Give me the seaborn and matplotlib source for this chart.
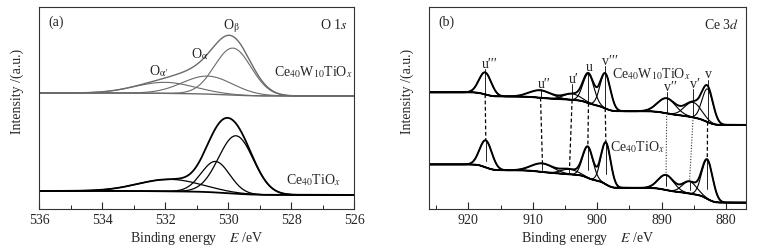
import matplotlib.pyplot as plt
import numpy as np
import seaborn as sns
from matplotlib.ticker import MultipleLocator

# ---------------------------------------------------------------------------
# Peak fits: centre (eV), height, width (sigma, eV).
# Heights and backgrounds are in arbitrary intensity units (offset curves).
# ---------------------------------------------------------------------------
# (a) O 1s
o_labels = ["O$_{\\mathrm{\\beta}}$", "O$_{\\mathrm{\\alpha}}$",
            "O$_{\\mathrm{\\alpha}\\prime}$"]
o_w_centre = [529.85, 530.65, 532.0]
o_w_height = [47, 18, 11]
o_w_sigma = [0.58, 0.80, 0.95]
o_w_bg = [113, 116]          # background at low / high binding energy
o_centre = [529.75, 530.40, 531.85]
o_height = [58, 31, 12]
o_sigma = [0.55, 0.45, 1.00]
o_bg = [14, 18]

# (b) Ce 3d
ce_labels = ["u\u2032\u2032\u2032", "u\u2032\u2032", "u\u2032", "u",
             "v\u2032\u2032\u2032", "v\u2032\u2032", "v\u2032", "v"]
ce_w_centre = [917.4, 908.8, 903.9, 901.35, 898.75, 889.2, 885.1, 882.85]
ce_w_height = [22, 7.5, 6, 29, 35, 15, 15, 33]
ce_w_sigma = [0.95, 1.7, 1.3, 0.85, 0.80, 1.4, 1.3, 0.85]
ce_w_bg = [84, 116.7]
ce_centre = [917.3, 908.5, 904.3, 901.45, 898.65, 889.3, 885.65, 882.9]
ce_height = [27, 8.5, 5, 31, 42, 15, 12, 39]
ce_sigma = [0.95, 1.7, 1.3, 0.80, 0.75, 1.2, 1.1, 0.85]
ce_bg = [6.3, 44.5]

sample_w = "Ce$_{40}$W$_{10}$TiO$_{x}$"
sample = "Ce$_{40}$TiO$_{x}$"


def fitted_spectrum(E, centre, height, sigma, bg):
    """Gaussian components on a Shirley-type background."""
    peaks = [h * np.exp(-((E - c) ** 2) / (2 * s ** 2))
             for c, h, s in zip(centre, height, sigma)]
    total = np.sum(peaks, axis=0)
    cum = np.concatenate([[0], np.cumsum((total[1:] + total[:-1]) / 2 * np.diff(E))])
    back = bg[0] + (bg[1] - bg[0]) * cum / cum[-1]
    return back, [back + p for p in peaks], back + total


sns.set_theme(style="ticks")
plt.rcParams["font.family"] = ["Liberation Serif", "DejaVu Serif"]
plt.rcParams["mathtext.fontset"] = "stix"
plt.rcParams["font.size"] = 10

fig = plt.figure(figsize=(7.65, 2.52), dpi=100)
ax1 = fig.add_axes([0.051, 0.171, 0.412, 0.801])
ax2 = fig.add_axes([0.561, 0.171, 0.414, 0.801])


def draw(ax, E, back, comps, env, color, lw_env=1.3, lw_comp=0.8):
    sns.lineplot(x=E, y=back, ax=ax, color=color, lw=lw_env)
    for c in comps:
        sns.lineplot(x=E, y=c, ax=ax, color=color, lw=lw_comp)
    sns.lineplot(x=E, y=env, ax=ax, color=color, lw=lw_env)


# ---------------- (a) O 1s ----------------
E1 = np.linspace(526, 536, 800)
bw, cw, ew = fitted_spectrum(E1, o_w_centre, o_w_height, o_w_sigma, o_w_bg)
b0, c0, e0 = fitted_spectrum(E1, o_centre, o_height, o_sigma, o_bg)
draw(ax1, E1, bw, cw, ew, "#6a6a6a", 1.0, 0.8)
draw(ax1, E1, b0, c0, e0, "black", 1.3, 0.9)

# labels of the O components, above the envelope
o_label_dx = [0.05, 0.25, 0.2]
o_label_dy = [10, 8, 9]
for lab, c, dx, dy in zip(o_labels, o_w_centre, o_label_dx, o_label_dy):
    ax1.text(c + dx, np.interp(c + dx, E1, ew) + dy, lab, ha="center", va="center",
             fontsize=10)

ax1.text(527.3, 137, sample_w, ha="center", va="center", fontsize=10)
ax1.text(527.3, 29, sample, ha="center", va="center", fontsize=10)
ax1.text(0.029, 0.926, "(a)", transform=ax1.transAxes, ha="left", va="center")
ax1.text(0.98, 0.911, "O 1$s$", transform=ax1.transAxes, ha="right", va="center")

ax1.set_xlim(536, 526)
ax1.xaxis.set_major_locator(MultipleLocator(2))
ax1.xaxis.set_minor_locator(MultipleLocator(1))

# ---------------- (b) Ce 3d ----------------
E2 = np.linspace(874, 928, 1500)
bw2, cw2, ew2 = fitted_spectrum(E2, ce_w_centre, ce_w_height, ce_w_sigma, ce_w_bg)
b02, c02, e02 = fitted_spectrum(E2, ce_centre, ce_height, ce_sigma, ce_bg)
draw(ax2, E2, bw2, cw2, ew2, "black", 1.4, 0.8)
draw(ax2, E2, b02, c02, e02, "black", 1.4, 0.8)

ce_label_dy = [8, 6, 14, 6, 12, 11, 17, 11]
ce_dotted = [False, False, False, False, False, True, True, False]
for lab, cu, cl, dy, dot in zip(ce_labels, ce_w_centre, ce_centre, ce_label_dy, ce_dotted):
    top_u = np.interp(cu, E2, ew2)
    base_u = np.interp(cu, E2, bw2)
    top_l = np.interp(cl, E2, e02)
    base_l = np.interp(cl, E2, b02)
    ax2.text(cu + 0.45, top_u + dy, lab, ha="left", va="center", fontsize=10)
    ax2.plot([cu, cu], [top_u + dy - 5, base_u], color="black", lw=0.6)
    if dot:
        ax2.plot([cu, cl], [base_u, top_l], color="#333333", lw=0.8, ls=(0, (1, 1.5)))
    else:
        ax2.plot([cu, cl], [base_u, top_l], color="black", lw=0.9, ls=(0, (3, 2)))
    ax2.plot([cl, cl], [top_l, top_l - 0.75 * (top_l - base_l)], color="black", lw=0.6)

ax2.text(897.7, 135, sample_w, ha="left", va="center", fontsize=10)
ax2.text(898.0, 62, sample, ha="left", va="center", fontsize=10)
ax2.text(0.029, 0.926, "(b)", transform=ax2.transAxes, ha="left", va="center")
ax2.text(0.98, 0.911, "Ce 3$d$", transform=ax2.transAxes, ha="right", va="center")

ax2.set_xlim(926.1, 876.9)
ax2.xaxis.set_major_locator(MultipleLocator(10))
ax2.xaxis.set_minor_locator(MultipleLocator(5))

for ax in (ax1, ax2):
    ax.set_ylim(0, 202)
    ax.set_yticks([])
    for s in ax.spines.values():
        s.set_visible(True)
        s.set_linewidth(0.8)
        s.set_color("#333333")
    ax.tick_params(axis="x", which="major", direction="in", length=5, width=0.8,
                   pad=4, labelsize=10)
    ax.tick_params(axis="x", which="minor", direction="in", length=3, width=0.7)
    ax.set_xlabel("Binding energy    $E$ /eV", fontsize=10, labelpad=2)
    ax.set_ylabel("Intensity /(a.u.)", fontsize=10)
    ax.yaxis.set_label_coords(-0.047, 0.58)

fig.savefig("out.png", dpi=100)
